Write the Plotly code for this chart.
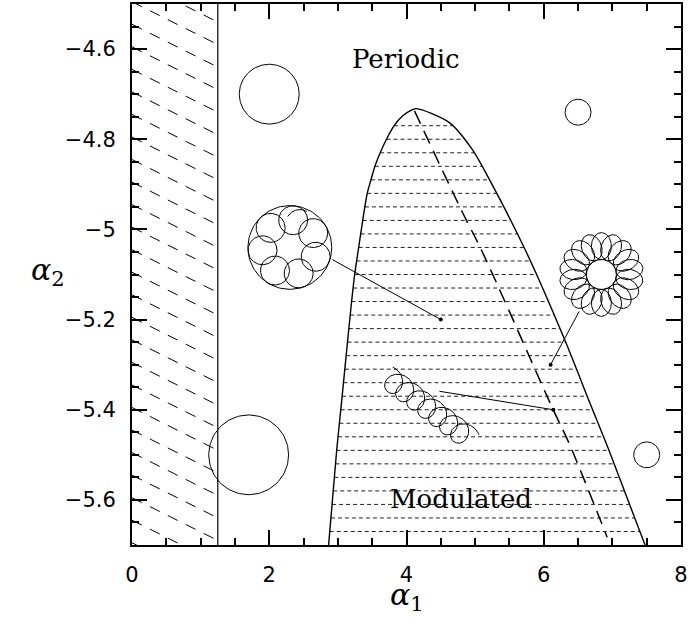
import numpy as np
import plotly.graph_objects as go

# ---------------- data ----------------
x_range = [0, 8]
y_range = [-5.7, -4.5]
x_tickvals = [0, 2, 4, 6, 8]
x_ticktext = ["0", "2", "4", "6", "8"]
y_tickvals = [-4.6, -4.8, -5.0, -5.2, -5.4, -5.6]
y_ticktext = ["\u22124.6", "\u22124.8", "\u22125", "\u22125.2", "\u22125.4", "\u22125.6"]

# excluded strip (hatched) upper edge in alpha_1
strip_edge = 1.25

# boundary of the modulated region
left_x = [2.865, 2.982, 3.055, 3.127, 3.200, 3.244, 3.302, 3.360, 3.425, 3.480,
          3.540, 3.610, 3.705, 3.820, 3.945, 4.080, 4.145]
left_y = [-5.700, -5.491, -5.381, -5.270, -5.160, -5.101, -5.041, -4.982, -4.922, -4.891,
          -4.860, -4.832, -4.801, -4.770, -4.748, -4.735, -4.732]
right_x = [4.145, 4.625, 4.960, 5.207, 5.745, 6.298, 6.662, 6.953, 7.476]
right_y = [-4.732, -4.763, -4.823, -4.889, -5.050, -5.242, -5.381, -5.491, -5.700]

# dashed line inside the region
dash_x = [4.116, 4.815, 5.105, 6.138, 6.371, 6.924]
dash_y = [-4.737, -4.962, -5.050, -5.400, -5.475, -5.683]

# simple circular orbits: centres
circle_x = [2.0, 6.5, 1.7, 7.5]
circle_y = [-4.70, -4.74, -5.50, -5.50]

# orbit figure centres
rosette7_xy = (2.30, -5.04)
rosette16_xy = (6.84, -5.10)
chain_xy = (4.31, -5.395)

# pointer lines: start -> marked point
ptr_x0 = [2.92, 6.516, 4.48]
ptr_y0 = [-5.067, -5.182, -5.359]
pt_x = [4.50, 6.10, 6.14]
pt_y = [-5.20, -5.30, -5.40]

label_text = ["Periodic", "Modulated"]
label_x = [3.99, 4.80]
label_y = [-4.622, -5.599]

# ---------------- layout geometry ----------------
W, H = 690, 634
ML, MR, MT, MB = 132, 8, 2, 89
SX = (W - ML - MR) / (x_range[1] - x_range[0])   # px per x unit
SY = (H - MT - MB) / (y_range[1] - y_range[0])   # px per y unit

# style sizes (pixels)
circle_r = [30, 13, 40, 13]

fig = go.Figure()


def add_line(xs, ys, width=1.0, dash="solid", color="black", shape="linear", smoothing=1.0):
    fig.add_trace(go.Scatter(x=xs, y=ys, mode="lines",
                             line=dict(color=color, width=width, dash=dash, shape=shape,
                                       smoothing=smoothing),
                             hoverinfo="skip", showlegend=False))


def ellipse_px(cx, cy, a_px, b_px, rot=0.0, dx=0.0, dy=0.0, n=120):
    t = np.linspace(0, 2 * np.pi, n)
    u = a_px * np.cos(t)
    v = b_px * np.sin(t)
    px = dx + u * np.cos(rot) - v * np.sin(rot)
    py = dy + u * np.sin(rot) + v * np.cos(rot)
    return list(cx + px / SX), list(cy + py / SY)


# ---- hatched excluded strip ----
hatch_slope = -0.5 * SX / SY
hx, hy = [], []
for c in np.arange(-4.395, -5.75, -0.05):
    hx += [0, strip_edge, None]
    hy += [c, c + hatch_slope * strip_edge, None]
add_line(hx, hy, width=1, dash="11px,9px")
add_line([strip_edge, strip_edge], y_range, width=1.2)

# ---- horizontal dashed hatching inside the region ----
lx_f = np.array(left_x)
ly_f = np.array(left_y)
rx_f = np.array(right_x)[::-1]
ry_f = np.array(right_y)[::-1]
gx, gy = [], []
for yy in np.arange(-4.77, -5.685, -0.03):
    xl = np.interp(yy, ly_f, lx_f)
    xr = np.interp(yy, ry_f, rx_f)
    gx += [xl, xr, None]
    gy += [yy, yy, None]
add_line(gx, gy, width=1, dash="4px,3px", color="#222")

# ---- boundary ----
add_line(left_x + right_x[1:], left_y + right_y[1:], width=1.4, shape="spline",
         smoothing=0.8)

# ---- dashed line ----
add_line(dash_x, dash_y, width=1.5, dash="14px,8px", shape="spline")

# ---- circular orbits ----
cx_all, cy_all = [], []
for cx, cy, r in zip(circle_x, circle_y, circle_r):
    xs, ys = ellipse_px(cx, cy, r, r)
    cx_all += xs + [None]
    cy_all += ys + [None]

# rosette with 7 loops + outer circle
rx0, ry0 = rosette7_xy
xs, ys = ellipse_px(rx0, ry0, 42, 42)
cx_all += xs + [None]
cy_all += ys + [None]
for k in range(7):
    ang = np.deg2rad(83 + k * 360 / 7)
    xs, ys = ellipse_px(rx0, ry0, 14.5, 14.5, dx=27.5 * np.cos(ang), dy=27.5 * np.sin(ang))
    cx_all += xs + [None]
    cy_all += ys + [None]
# short start of the orbit
tt = np.linspace(np.deg2rad(150), np.deg2rad(60), 20)
cx_all += list(rx0 + (10 + 14 * np.cos(tt)) / SX) + [None]
cy_all += list(ry0 + (24 + 14 * np.sin(tt)) / SY) + [None]

# rosette with 18 petals + inner circle
qx0, qy0 = rosette16_xy
xs, ys = ellipse_px(qx0, qy0, 15, 15)
cx_all += xs + [None]
cy_all += ys + [None]
for k in range(18):
    ang = np.deg2rad(90 + k * 20)
    xs, ys = ellipse_px(qx0, qy0, 13.5, 10, rot=ang,
                        dx=28.5 * np.cos(ang), dy=28.5 * np.sin(ang))
    cx_all += xs + [None]
    cy_all += ys + [None]
add_line(cx_all, cy_all, width=1)

# looping chain (prolate trochoid)
a_adv = 13.8 / (2 * np.pi)
R_loop = 11.7
t = np.linspace(-0.3, 14 * np.pi + 0.7, 900)
u = a_adv * t + R_loop * np.sin(t) - 7 * np.pi * a_adv
w = R_loop * np.cos(t)
d = np.array([0.798, -0.602])
p = np.array([0.602, 0.798])
px = u * d[0] + w * p[0]
py = u * d[1] + w * p[1]
add_line(list(chain_xy[0] + px / SX), list(chain_xy[1] + py / SY), width=1)

# ---- pointer lines and points ----
px_l, py_l = [], []
for x0, y0, x1, y1 in zip(ptr_x0, ptr_y0, pt_x, pt_y):
    px_l += [x0, x1, None]
    py_l += [y0, y1, None]
add_line(px_l, py_l, width=1)
fig.add_trace(go.Scatter(x=pt_x, y=pt_y, mode="markers",
                         marker=dict(color="black", size=4),
                         hoverinfo="skip", showlegend=False))

# ---- labels ----
for txt, x, y in zip(label_text, label_x, label_y):
    fig.add_annotation(x=x, y=y, text=txt, showarrow=False,
                       font=dict(family="DejaVu Serif", size=26, color="black"),
                       xanchor="center", yanchor="middle")

fig.add_annotation(xref="paper", yref="paper", x=(407 - ML) / (W - ML - MR),
                   y=(H - MB - 597) / (H - MT - MB),
                   text="<i>\u03b1</i><sub>1</sub>", showarrow=False,
                   font=dict(family="DejaVu Serif", size=30, color="black"),
                   xanchor="center", yanchor="middle")
fig.add_annotation(xref="paper", yref="paper", x=(48 - ML) / (W - ML - MR),
                   y=(H - MB - 270) / (H - MT - MB),
                   text="<i>\u03b1</i><sub>2</sub>", showarrow=False,
                   font=dict(family="DejaVu Serif", size=30, color="black"),
                   xanchor="center", yanchor="middle")

axis_common = dict(showline=True, linecolor="black", linewidth=2, mirror="ticks",
                   ticks="inside", ticklen=15, tickwidth=1.5, tickcolor="black",
                   showgrid=False, zeroline=False,
                   tickfont=dict(family="DejaVu Sans", size=21, color="black"),
                   ticklabelstandoff=10)

fig.update_xaxes(range=x_range, tickvals=x_tickvals, ticktext=x_ticktext,
                 minor=dict(ticks="inside", ticklen=7, dtick=0.5, tickwidth=1.5,
                            tickcolor="black", showgrid=False),
                 **axis_common)
fig.update_yaxes(range=y_range, tickvals=y_tickvals, ticktext=y_ticktext,
                 minor=dict(ticks="inside", ticklen=7, dtick=0.05, tick0=-4.5,
                            tickwidth=1.5, tickcolor="black", showgrid=False),
                 **axis_common)

fig.update_layout(width=W, height=H, margin=dict(l=ML, r=MR, t=MT, b=MB),
                  plot_bgcolor="white", paper_bgcolor="white", showlegend=False)

fig.write_html("out.html", config={"displayModeBar": False},
               post_script="document.body.style.margin='0';")
